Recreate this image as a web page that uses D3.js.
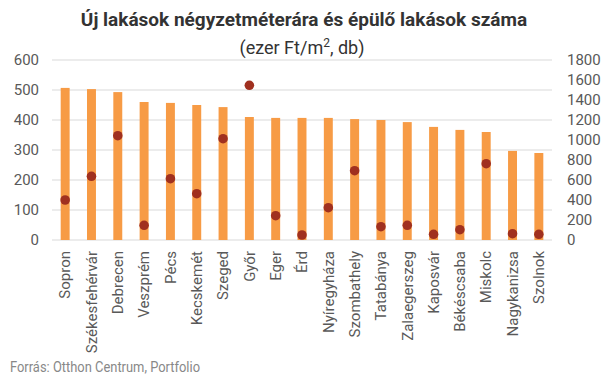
<!DOCTYPE html>
<html><head><meta charset="utf-8">
<script src="https://cdn.jsdelivr.net/npm/d3@7"></script>
<style>body{margin:0;background:#fff}svg{display:block;font-family:Roboto,sans-serif}</style>
</head><body><svg id="c" width="605" height="379"></svg>
<script>
const categories = ["Sopron","Székesfehérvár","Debrecen","Veszprém","Pécs","Kecskemét","Szeged","Győr","Eger","Érd","Nyíregyháza","Szombathely","Tatabánya","Zalaegerszeg","Kaposvár","Békéscsaba","Miskolc","Nagykanizsa","Szolnok"];
const prices = [507,503,493,460,457,450,443,410,407,407,407,403,400,393,377,367,360,297,290];
const flats = [400,637,1043,147,613,463,1013,1547,243,50,323,693,133,147,57,103,763,63,57];
const leftTicks = [0,100,200,300,400,500,600];
const rightTicks = [0,200,400,600,800,1000,1200,1400,1600,1800];

const svg = d3.select("#c");
const L = 52, R = 552, T = 60, B = 240;
const x = d3.scaleBand().domain(categories).range([L, R]).paddingInner(0.66).paddingOuter(0.33);
const yL = d3.scaleLinear().domain([0, 600]).range([B, T]);
const yR = d3.scaleLinear().domain([0, 1800]).range([B, T]);

svg.append("g").selectAll("line").data(leftTicks).join("line")
  .attr("x1", L).attr("x2", R).attr("y1", d => yL(d)).attr("y2", d => yL(d))
  .attr("stroke", "#d9d9d9").attr("stroke-width", 1);

const axL = svg.append("g").attr("transform", `translate(${L},0)`)
  .call(d3.axisLeft(yL).tickValues(leftTicks).tickFormat(d3.format("d")).tickSize(0).tickPadding(13));
const axR = svg.append("g").attr("transform", `translate(${R},0)`)
  .call(d3.axisRight(yR).tickValues(rightTicks).tickFormat(d3.format("d")).tickSize(0).tickPadding(15));
[axL, axR].forEach(a => {
  a.select(".domain").remove();
  a.selectAll("text").attr("font-size", 15).attr("fill", "#595959").attr("font-family", "Roboto");
});

svg.append("g").selectAll("rect").data(categories).join("rect")
  .attr("x", d => x(d)).attr("width", x.bandwidth())
  .attr("y", (d, i) => yL(prices[i])).attr("height", (d, i) => B - yL(prices[i]))
  .attr("fill", "#F79B45");

svg.append("g").selectAll("circle").data(categories).join("circle")
  .attr("cx", d => x(d) + x.bandwidth() / 2).attr("cy", (d, i) => yR(flats[i]))
  .attr("r", 4.8).attr("fill", "#A0301F");

const axB = svg.append("g").attr("transform", `translate(0,${B})`)
  .call(d3.axisBottom(x).tickSize(0).tickPadding(0));
axB.select(".domain").remove();
axB.selectAll("text")
  .attr("transform", "rotate(-90)")
  .attr("x", -11).attr("y", 0).attr("dy", "0.35em")
  .attr("text-anchor", "end")
  .attr("font-size", 15).attr("fill", "#595959").attr("font-family", "Roboto");

svg.append("text").attr("x", 304).attr("y", 26).attr("text-anchor", "middle")
  .attr("font-size", 19).attr("font-weight", "bold").attr("fill", "#333")
  .text("Új lakások négyzetméterára és épülő lakások száma");
const sub = svg.append("text").attr("x", 302).attr("y", 54).attr("text-anchor", "middle")
  .attr("font-size", 18).attr("fill", "#333");
sub.append("tspan").text("(ezer Ft/m");
sub.append("tspan").attr("font-size", 12).attr("dy", -7).text("2");
sub.append("tspan").attr("dy", 7).text(", db)");

svg.append("text").attr("x", 10).attr("y", 372).attr("font-size", 14).attr("fill", "#888")
  .attr("textLength", 190).attr("lengthAdjust", "spacingAndGlyphs")
  .text("Forrás: Otthon Centrum, Portfolio");
</script></body></html>
